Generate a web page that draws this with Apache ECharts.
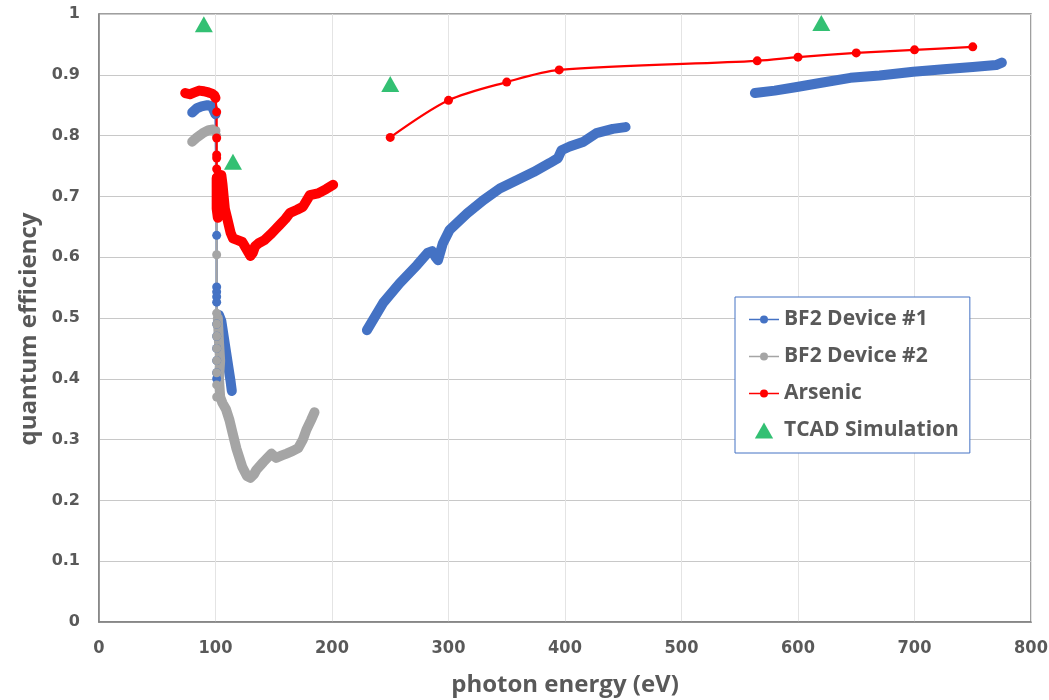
<!DOCTYPE html>
<html>
<head>
<meta charset="utf-8">
<script src="https://cdn.jsdelivr.net/npm/echarts@6/dist/echarts.min.js"></script>
<style>
  html, body { margin: 0; padding: 0; background: #fff; }
  #qe-chart { width: 1049px; height: 700px; }
</style>
</head>
<body>
<div id="qe-chart"></div>
<script>
// values: [photon energy (eV), quantum efficiency]
const xTicks = [0, 100, 200, 300, 400, 500, 600, 700, 800];
const legendNames = ['BF2 Device #1', 'BF2 Device #2', 'Arsenic', 'TCAD Simulation'];

// BF2 Device #1
const bf2d1Low = [[80, 0.838], [84, 0.845], [88, 0.848], [93, 0.85], [97, 0.848], [100, 0.835]];
const bf2d1Drop = [[100, 0.835], [101, 0.636], [101, 0.551], [101, 0.543], [101, 0.535], [101, 0.526],
    [101, 0.49], [101, 0.47], [101, 0.45], [101, 0.43], [101, 0.41], [101, 0.40]];
const bf2d1Wedge = [[103, 0.505], [105, 0.495], [107, 0.47], [109, 0.445], [111, 0.42], [113, 0.395], [114, 0.38]];
const bf2d1Mid = [[230, 0.48], [244, 0.525], [258, 0.557], [273, 0.587], [282, 0.607], [286, 0.61], [289, 0.60],
    [291, 0.595], [295, 0.622], [301, 0.645], [316, 0.672], [330, 0.694], [344, 0.713], [359, 0.727],
    [373, 0.74], [387, 0.755], [394, 0.763], [397, 0.776], [404, 0.782], [416, 0.79], [427, 0.804],
    [441, 0.811], [452, 0.814]];
const bf2d1High = [[563, 0.870], [580, 0.874], [599, 0.880], [620, 0.887], [645, 0.895], [670, 0.899],
    [699, 0.905], [725, 0.909], [750, 0.913], [770, 0.916], [775, 0.92]];

// BF2 Device #2
const bf2d2Low = [[80, 0.79], [84, 0.797], [89, 0.804], [94, 0.809], [98, 0.81], [100, 0.808]];
const bf2d2Drop = [[100, 0.808], [101, 0.80], [101, 0.604], [101, 0.508], [101, 0.49], [101, 0.47],
    [101, 0.45], [101, 0.43], [101, 0.41], [101, 0.39], [101, 0.37]];
const bf2d2Curve = [[102, 0.50], [103, 0.46], [104, 0.43], [103, 0.40], [104, 0.37], [106, 0.36], [109, 0.35],
    [112, 0.332], [114, 0.316], [118, 0.285], [123, 0.255], [127, 0.240], [130, 0.237], [133, 0.243],
    [135, 0.25], [141, 0.263], [148, 0.277], [152, 0.27], [157, 0.274], [161, 0.277], [166, 0.281],
    [171, 0.286], [175, 0.30], [178, 0.316], [182, 0.332], [185, 0.345]];

// Arsenic
const arsenicLow = [[74, 0.870], [78, 0.868], [82, 0.871], [86, 0.874], [90, 0.873], [94, 0.871],
    [97, 0.869], [99, 0.866], [100, 0.862]];
const arsenicDrop = [[100, 0.862], [101, 0.839], [101, 0.796], [101, 0.768], [101, 0.763], [101, 0.745], [101, 0.732]];
const arsenicCurve = [[101, 0.73], [101, 0.70], [101, 0.68], [102, 0.665], [103, 0.70], [104, 0.725],
    [105, 0.735], [106, 0.72], [107, 0.70], [108, 0.68], [110, 0.664], [113, 0.64], [115, 0.631],
    [119, 0.628], [123, 0.625], [127, 0.612], [130, 0.602], [132, 0.607], [134, 0.618], [137, 0.623],
    [142, 0.628], [147, 0.637], [151, 0.645], [155, 0.653], [160, 0.663], [164, 0.673], [170, 0.678],
    [175, 0.683], [181, 0.702], [188, 0.705], [195, 0.712], [201, 0.719]];
const arsenicSparse = [[250, 0.797], [300, 0.858], [350, 0.888], [395, 0.908], [565, 0.923],
    [600, 0.929], [650, 0.936], [700, 0.941], [750, 0.946]];

// TCAD Simulation
const tcad = [[90, 0.983], [115, 0.757], [250, 0.885], [620, 0.985]];

const BLUE = '#4472C4';
const GRAY = '#A5A5A5';
const RED = '#FF0000';
const GREEN = '#00B050';
const TEXT = '#595959';
const lineIcon = 'path://M0,3.2H30V4.8H0Z M19,4A4,4,0,1,1,11,4A4,4,0,1,1,19,4Z';
const triIcon = 'path://M8,0L16,14H0Z';

// thin line with visible markers
function thin(name, data, color, smooth) {
    return {
        name: name, type: 'line', data: data,
        symbol: 'circle', symbolSize: 9, showSymbol: true,
        smooth: smooth || false,
        itemStyle: { color: color },
        lineStyle: { width: 2.2, color: color },
        silent: true
    };
}

// densely measured stretch: markers overlap into a solid band
function band(name, data, color) {
    return {
        name: name, type: 'line', data: data,
        symbol: 'none', showSymbol: false,
        itemStyle: { color: color },
        lineStyle: { width: 10, color: color, cap: 'round', join: 'round' },
        silent: true
    };
}

const option = {
    animation: false,
    grid: {
        left: 99, right: 18, top: 14, bottom: 78,
        outerBoundsMode: 'none',
        show: true, borderColor: '#808080', borderWidth: 1.5
    },
    legend: {
        orient: 'vertical',
        left: 735, top: 297,
        padding: [12, 11, 12, 14],
        itemGap: 16,
        itemWidth: 30, itemHeight: 16,
        backgroundColor: '#fff',
        borderColor: BLUE, borderWidth: 1,
        textStyle: { color: TEXT, fontSize: 21, fontWeight: 'bold', fontFamily: 'Open Sans' },
        data: [
            { name: legendNames[0], icon: lineIcon },
            { name: legendNames[1], icon: lineIcon },
            { name: legendNames[2], icon: lineIcon },
            { name: legendNames[3], icon: triIcon }
        ]
    },
    xAxis: {
        type: 'value', min: xTicks[0], max: xTicks[xTicks.length - 1], interval: 100,
        name: 'photon energy (eV)', nameLocation: 'middle', nameGap: 51,
        nameTextStyle: { color: TEXT, fontSize: 24, fontWeight: 'bold', fontFamily: 'Open Sans' },
        axisLine: { show: true, lineStyle: { color: '#808080', width: 1.5 } },
        axisTick: { show: false },
        axisLabel: { margin: 17, color: TEXT, fontSize: 18, fontWeight: 'bold', fontFamily: 'DejaVu Sans Condensed' },
        splitLine: { show: true, lineStyle: { color: '#e4e4e4', width: 1 } }
    },
    yAxis: {
        type: 'value', min: 0, max: 1, interval: 0.1,
        name: 'quantum efficiency', nameLocation: 'middle', nameGap: 58,
        nameTextStyle: {
            color: TEXT, fontSize: 24, fontWeight: 'bold', fontFamily: 'Open Sans',
            padding: [0, 22, 0, 0]
        },
        axisLine: { show: true, lineStyle: { color: '#808080', width: 1.5 } },
        axisTick: { show: false },
        axisLabel: { margin: 19, color: TEXT, fontSize: 16, fontWeight: 'bold', fontFamily: 'DejaVu Sans' },
        splitLine: { show: true, lineStyle: { color: '#c8c8c8', width: 1 } }
    },
    series: [
        thin(legendNames[0], bf2d1Drop, BLUE),
        band(legendNames[0], bf2d1Low, BLUE),
        band(legendNames[0], bf2d1Wedge, BLUE),
        band(legendNames[0], bf2d1Mid, BLUE),
        band(legendNames[0], bf2d1High, BLUE),
        thin(legendNames[1], bf2d2Drop, GRAY),
        band(legendNames[1], bf2d2Low, GRAY),
        band(legendNames[1], bf2d2Curve, GRAY),
        thin(legendNames[2], arsenicDrop, RED),
        thin(legendNames[2], arsenicSparse, RED, 0.3),
        band(legendNames[2], arsenicLow, RED),
        band(legendNames[2], arsenicCurve, RED),
        {
            name: legendNames[3], type: 'scatter', data: tcad,
            symbol: 'triangle', symbolSize: [18, 16],
            itemStyle: { color: GREEN },
            silent: true
        }
    ]
};

const chart = echarts.init(document.getElementById('qe-chart'));
chart.setOption(option);
window.addEventListener('resize', () => chart.resize());
</script>
</body>
</html>
